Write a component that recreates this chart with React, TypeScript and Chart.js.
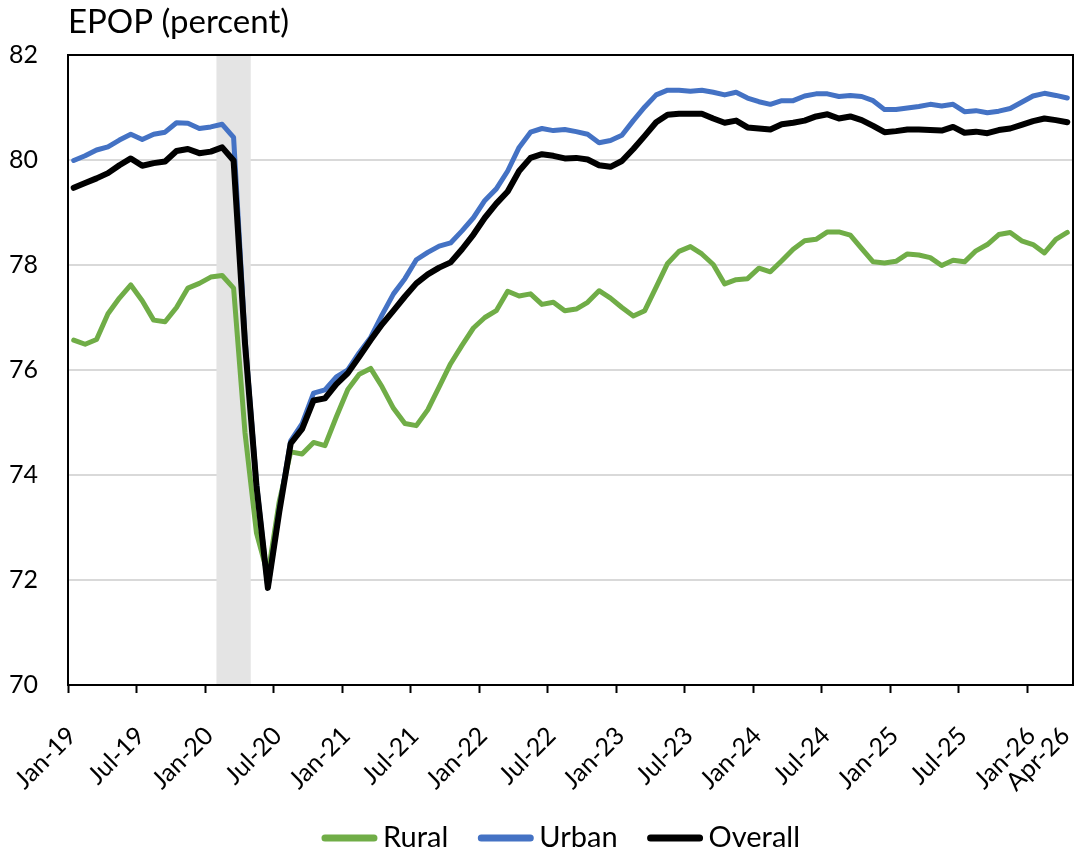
import React, { useEffect, useRef } from "react";
import { Chart, registerables } from "chart.js";

Chart.register(...registerables);

// Monthly observations, Jan-19 (index 0) through Apr-26 (index 87)
const rural: number[] = [
  76.57, 76.49, 76.58, 77.07, 77.37, 77.62, 77.32, 76.95, 76.92, 77.19,
  77.56, 77.65, 77.77, 77.80, 77.56, 74.8, 72.9, 72.1, 73.5, 74.44,
  74.40, 74.62, 74.56, 75.11, 75.63, 75.92, 76.03, 75.68, 75.27, 74.98,
  74.94, 75.24, 75.68, 76.12, 76.47, 76.80, 77.00, 77.13, 77.50, 77.41,
  77.45, 77.25, 77.29, 77.13, 77.16, 77.29, 77.51, 77.37, 77.19, 77.03,
  77.13, 77.58, 78.03, 78.26, 78.35, 78.21, 78.01, 77.64, 77.72, 77.74,
  77.94, 77.87, 78.08, 78.30, 78.46, 78.49, 78.63, 78.63, 78.57, 78.31,
  78.06, 78.04, 78.07, 78.21, 78.19, 78.14, 77.99, 78.09, 78.06, 78.27,
  78.39, 78.58, 78.62, 78.46, 78.39, 78.23, 78.49, 78.62,
];

const urban: number[] = [
  79.99, 80.08, 80.19, 80.25, 80.38, 80.49, 80.39, 80.49, 80.53, 80.71,
  80.70, 80.60, 80.63, 80.68, 80.43, 76.6, 73.85, 71.85, 73.35, 74.65,
  74.98, 75.56, 75.62, 75.87, 76.00, 76.33, 76.62, 77.05, 77.45, 77.74,
  78.10, 78.24, 78.36, 78.42, 78.65, 78.90, 79.23, 79.45, 79.79, 80.24,
  80.53, 80.60, 80.56, 80.58, 80.54, 80.49, 80.33, 80.37, 80.47, 80.75,
  81.01, 81.24, 81.33, 81.33, 81.31, 81.33, 81.29, 81.24, 81.29, 81.18,
  81.11, 81.06, 81.13, 81.13, 81.22, 81.26, 81.26, 81.21, 81.23, 81.21,
  81.13, 80.96, 80.96, 80.99, 81.02, 81.06, 81.03, 81.06, 80.92, 80.94,
  80.90, 80.93, 80.98, 81.10, 81.22, 81.27, 81.23, 81.18,
];

const overall: number[] = [
  79.47, 79.56, 79.65, 79.75, 79.90, 80.03, 79.89, 79.94, 79.97, 80.17,
  80.21, 80.13, 80.16, 80.24, 79.99, 76.5, 73.8, 71.85, 73.3, 74.6,
  74.88, 75.42, 75.46, 75.73, 75.94, 76.25, 76.57, 76.87, 77.13, 77.40,
  77.65, 77.82, 77.95, 78.05, 78.30, 78.58, 78.90, 79.17, 79.40, 79.79,
  80.04, 80.11, 80.08, 80.03, 80.04, 80.01, 79.90, 79.87, 79.98, 80.21,
  80.46, 80.72, 80.86, 80.88, 80.88, 80.88, 80.79, 80.71, 80.75, 80.62,
  80.60, 80.58, 80.68, 80.71, 80.75, 80.83, 80.87, 80.79, 80.83, 80.76,
  80.65, 80.53, 80.55, 80.58, 80.58, 80.57, 80.56, 80.63, 80.52, 80.54,
  80.51, 80.57, 80.60, 80.67, 80.74, 80.79, 80.76, 80.72,
];

// Axis tick positions (month index from Jan-19) and labels
const tickMonths: number[] = [0, 6, 12, 18, 24, 30, 36, 42, 48, 54, 60, 66, 72, 78, 84, 87];
const tickLabels: string[] = [
  "Jan-19", "Jul-19", "Jan-20", "Jul-20", "Jan-21", "Jul-21", "Jan-22", "Jul-22",
  "Jan-23", "Jul-23", "Jan-24", "Jul-24", "Jan-25", "Jul-25", "Jan-26", "Apr-26",
];
const yTicks: number[] = [70, 72, 74, 76, 78, 80, 82];

// Recession shading: Feb-20 through Apr-20 (month indices, start of Feb to end of Apr)
const recession: number[] = [13, 16];

const seriesNames: string[] = ["Rural", "Urban", "Overall"];
const seriesColors: string[] = ["#70AD47", "#4472C4", "#000000"];
const seriesWidths: number[] = [5, 5, 6];

const FONT = "Lato, 'Open Sans', sans-serif";

const toPoints = (arr: number[]) => arr.map((v, i) => ({ x: i + 0.5, y: v }));

const shadePlugin = {
  id: "shade",
  beforeDatasetsDraw(chart: any) {
    const { ctx, chartArea, scales } = chart;
    const x1 = scales.x.getPixelForValue(recession[0]);
    const x2 = scales.x.getPixelForValue(recession[1]);
    ctx.save();
    ctx.fillStyle = "#e4e4e4";
    ctx.fillRect(x1, chartArea.top, x2 - x1, chartArea.bottom - chartArea.top);
    ctx.restore();
  },
};

const framePlugin = {
  id: "frame",
  afterDatasetsDraw(chart: any) {
    const { ctx, chartArea } = chart;
    ctx.save();
    ctx.strokeStyle = "#000";
    ctx.lineWidth = 2;
    ctx.strokeRect(chartArea.left, chartArea.top, chartArea.right - chartArea.left, chartArea.bottom - chartArea.top);
    ctx.restore();
  },
};

const titlePlugin = {
  id: "topTitle",
  afterDraw(chart: any) {
    const { ctx, chartArea } = chart;
    ctx.save();
    ctx.fillStyle = "#000";
    ctx.font = `33px ${FONT}`;
    ctx.textAlign = "left";
    ctx.textBaseline = "alphabetic";
    ctx.fillText("EPOP (percent)", chartArea.left, 33);
    ctx.restore();
  },
};

const legendPlugin = {
  id: "bottomLegend",
  afterDraw(chart: any) {
    const { ctx } = chart;
    const lineLen = 55;
    const gapText = 6;
    const gapItem = 30;
    const y = 838;
    ctx.save();
    ctx.font = `29px ${FONT}`;
    const widths = seriesNames.map((n) => ctx.measureText(n).width);
    const total = widths.reduce((a, b) => a + b, 0) + seriesNames.length * (lineLen + gapText) + (seriesNames.length - 1) * gapItem;
    let x = 561 - total / 2;
    seriesNames.forEach((name, i) => {
      ctx.strokeStyle = seriesColors[i];
      ctx.lineWidth = 7;
      ctx.lineCap = "round";
      ctx.beginPath();
      ctx.moveTo(x + 3, y);
      ctx.lineTo(x + lineLen - 3, y);
      ctx.stroke();
      x += lineLen + gapText;
      ctx.fillStyle = "#000";
      ctx.textAlign = "left";
      ctx.textBaseline = "middle";
      ctx.fillText(name, x, y);
      x += widths[i] + gapItem;
    });
    ctx.restore();
  },
};

export default function App() {
  const canvasRef = useRef<HTMLCanvasElement | null>(null);

  useEffect(() => {
    document.body.style.margin = "0";
    const canvas = canvasRef.current;
    if (!canvas) return;
    const chart = new Chart(canvas, {
      type: "line",
      data: {
        datasets: [rural, urban, overall].map((arr, i) => ({
          label: seriesNames[i],
          data: toPoints(arr),
          borderColor: seriesColors[i],
          backgroundColor: seriesColors[i],
          borderWidth: seriesWidths[i],
          pointRadius: 0,
          tension: 0,
          borderJoinStyle: "round" as const,
          borderCapStyle: "round" as const,
          order: 2 - i,
        })),
      },
      options: {
        animation: false,
        responsive: false,
        maintainAspectRatio: false,
        devicePixelRatio: 1,
        layout: { padding: { top: 55, right: 5, left: 0, bottom: 0 } },
        plugins: {
          legend: { display: false },
          tooltip: { enabled: false },
          title: { display: false },
        },
        scales: {
          x: {
            type: "linear",
            min: 0,
            max: 88,
            afterBuildTicks: (s: any) => {
              s.ticks = tickMonths.map((v) => ({ value: v }));
            },
            afterFit: (s: any) => {
              s.height = 168;
              s.paddingLeft = 0;
              s.paddingRight = 0;
            },
            grid: {
              drawOnChartArea: false,
              drawTicks: true,
              tickLength: 8,
              tickWidth: 2,
              tickColor: (c: any) => (c.tick && c.tick.value === 87 ? "rgba(0,0,0,0)" : "#000"),
            },
            border: { display: true, color: "#000", width: 2 },
            ticks: {
              autoSkip: false,
              maxRotation: 45,
              minRotation: 45,
              padding: 28,
              labelOffset: 4,
              color: "#000",
              font: { family: FONT, size: 25 },
              callback: (_v: any, i: number) => tickLabels[i],
            },
          },
          y: {
            min: 70,
            max: 82,
            afterBuildTicks: (s: any) => {
              s.ticks = yTicks.map((v) => ({ value: v }));
            },
            afterFit: (s: any) => {
              s.width = 68;
              s.paddingTop = 0;
              s.paddingBottom = 0;
            },
            grid: {
              color: (c: any) => (c.tick && (c.tick.value === 70 || c.tick.value === 82) ? "rgba(0,0,0,0)" : "#d9d9d9"),
              lineWidth: 2,
              drawTicks: false,
            },
            border: { display: true, color: "#000", width: 2 },
            ticks: {
              padding: 30,
              color: "#000",
              font: { family: FONT, size: 25 },
              callback: (v: any) => String(v),
            },
          },
        },
      },
      plugins: [shadePlugin, framePlugin, titlePlugin, legendPlugin],
    });
    return () => {
      chart.destroy();
    };
  }, []);

  return (
    <div style={{ width: 1078, height: 853 }}>
      <canvas ref={canvasRef} width={1078} height={853} style={{ display: "block" }} />
    </div>
  );
}
